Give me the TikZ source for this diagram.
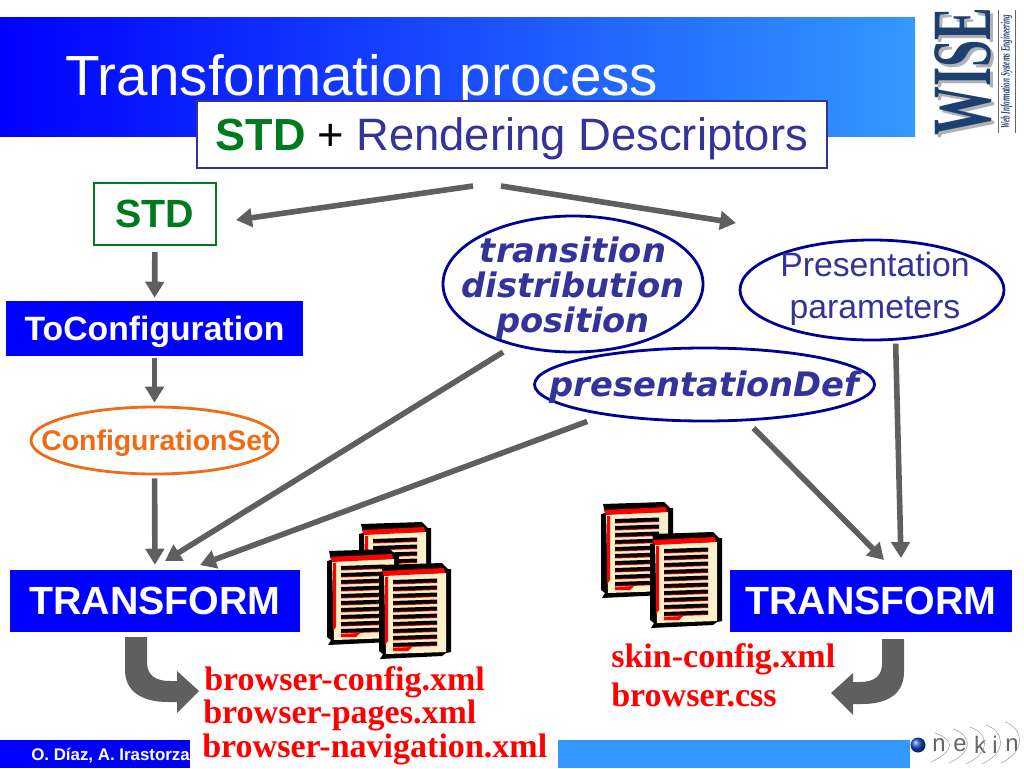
\documentclass[tikz,border=0pt]{standalone}
\usepackage{fontspec}
\setmainfont{Liberation Sans}
\newfontfamily\serifbf{Liberation Serif}
\newfontfamily\dejavu{DejaVu Sans}
\usepackage{xcolor}
\usepackage{tikz}
\usetikzlibrary{positioning,arrows.meta,shapes.geometric}
\newcommand{\fsz}[1]{\fontsize{#1}{#1}\selectfont}
\definecolor{navytext}{HTML}{333399}
\definecolor{barblue}{HTML}{0000FF}
\definecolor{skyblue}{HTML}{3399FF}
\definecolor{flowgray}{HTML}{5F5F5F}
\definecolor{stdgreen}{HTML}{007A1E}
\definecolor{cfgorange}{HTML}{F26A13}
\definecolor{pagecream}{HTML}{FFF0CC}
\definecolor{wiseblue}{HTML}{1D3F70}
\tikzset{
  flow/.style={line width=1.4mm, draw=flowgray, -{Triangle[length=4mm,width=4.6mm]}},
  bluebox/.style={fill=barblue, text=white, font=\bfseries\fsz{28}, inner sep=0pt},
  oval/.style={ellipse, draw=#1, line width=0.7mm, inner sep=0pt},
  slanted/.style={text=navytext, font=\dejavu\bfseries\itshape\fontsize{24}{25}\selectfont, align=center},
  redfile/.style={anchor=base west, text=red, font=\serifbf\bfseries\fsz{24.2}, inner sep=0pt},
  pics/docpage/.style={code={
    \fill[black] (1,0) -- (62,-2) -- (68,4) -- (71,4) -- (71,87) -- (66,88) -- (62,91) -- (0,94) -- (3,89) -- (-1,86) -- (-1,10) -- (3,9) -- cycle;
    \fill[pagecream] (4,10) -- (66,8) -- (66,87) -- (6,89) -- cycle;
    \fill[red] (2,6) -- (64,3) -- (65,8) -- (4,11) -- cycle;
    \fill[red] (5,12) -- (8,12) -- (8,76) -- (5,80) -- cycle;
    \foreach \ly in {15,22,...,78} {
      \fill[red] (13,\ly+3) -- (57,\ly+1.5) -- (57,\ly+3) -- (13,\ly+4.5) -- cycle;
      \fill[black] (13,\ly) -- (57,\ly-1.5) -- (57,\ly+2.2) -- (13,\ly+3.7) -- cycle;
    }
    \fill[red] (13,83) -- (32,82) -- (28,86) -- (13,86) -- cycle;
  }}
}
\begin{document}
\begin{tikzpicture}[x=0.25mm, y=-0.25mm, font=\fsz{24}]
\useasboundingbox (0,0) rectangle (1024,768);
% header and footer bars
\shade[left color=barblue, right color=skyblue] (0,17) rectangle (915,136);
\fill[barblue] (0,740) rectangle (190,768);
\fill[skyblue] (558,740) rectangle (910,768);
\node[anchor=base west, text=white, font=\fsz{40.3}, inner sep=0pt] (title) at (65,95) {Transformation process};
\node[anchor=base west, text=white, font=\bfseries\fsz{12}, inner sep=0pt] (authors) at (31,760) {O. Díaz, A. Irastorza};
% boxes
\node[draw=navytext, fill=white, line width=0.6mm, minimum width=157.5mm, minimum height=16.75mm, inner sep=0pt, text depth=0pt] (render) at (512,134.5)
  {\textcolor{stdgreen}{\bfseries\fsz{32}STD}\hspace{1.5pt} \fsz{32.3}+ \textcolor{navytext}{Rendering Descriptors}};
\node[draw=stdgreen, line width=0.6mm, minimum width=30.5mm, minimum height=15.5mm, inner sep=0pt, text=stdgreen, font=\bfseries\fsz{28}] (std) at (155,214) {STD};
\node[bluebox, font=\bfseries\fsz{24}, minimum width=74.25mm, minimum height=13.75mm, text depth=0pt] (toconf) at (154.5,328.5) {ToConfiguration};
\node[oval=cfgorange, minimum width=61.75mm, minimum height=16.75mm] (cfgset) at (154.5,440.5) {};
\node[text=cfgorange, font=\bfseries\fsz{20.2}] (cfgsettext) at (156.5,443) {ConfigurationSet};
\node[bluebox, minimum width=72.5mm, minimum height=15.5mm] (transL) at (155,601) {TRANSFORM};
\node[bluebox, minimum width=70.5mm, minimum height=15.5mm] (transR) at (871,601) {TRANSFORM};
% ovals
\node[oval=barblue!60!black, minimum width=65mm, minimum height=34mm] (tdp) at (573,284) {};
\node[slanted] (tdptext) at (573,288) {transition\\distribution\\position};
\node[oval=barblue!60!black, minimum width=66mm, minimum height=25mm] (params) at (872,290) {};
\node[align=center, text=navytext, font=\fontsize{24}{30}\selectfont] (paramstext) at (875,289) {Presentation\\parameters};
\node[oval=barblue!60!black, minimum width=85mm, minimum height=18.25mm] (presdef) at (704.5,384.5) {};
\node[slanted] (presdeftext) at (704.5,387) {presentationDef};
% free ends of the arrows
\coordinate (fromL) at (473,186);
\coordinate (toStd) at (236,220);
\coordinate (fromR) at (501,186);
\coordinate (toParams) at (736,223);
\coordinate (inL1) at (165,561);
\coordinate (inL2) at (200,565);
\coordinate (inR1) at (884,560);
\coordinate (inR2) at (901,558);
% arrows
\draw[flow, shorten <=1.5mm, shorten >=0.75mm] (std) -- (toconf);
\draw[flow, shorten <=0.5mm, shorten >=0.75mm] (toconf) -- (cfgset);
\draw[flow, shorten <=0.75mm, shorten >=1.25mm] (cfgset) -- (transL);
\draw[flow] (fromL) -- (toStd);
\draw[flow] (fromR) -- (toParams);
\draw[flow, shorten <=3mm] (tdp.226) -- (inL1);
\draw[flow, shorten <=4.5mm] (presdef.197.7) -- (inL2);
\draw[flow, shorten <=2.4mm] (presdef.319.5) -- (inR1);
\draw[flow, shorten <=0.75mm] (params.295.7) -- (inR2);
% bent arrows
\fill[flowgray] (125,637) -- (147,637) -- (147,662) .. controls (147,675) and (155,681) .. (170,681)
  -- (177,681) -- (177,671) -- (199,691) -- (177,713) -- (177,702) -- (168,702)
  .. controls (140,702) and (125,690) .. (125,670) -- cycle;
\fill[flowgray] (904,639) -- (882,639) -- (882,664) .. controls (882,676) and (874,682) .. (860,682)
  -- (853,682) -- (853,673) -- (831,693) -- (853,715) -- (853,704) -- (862,704)
  .. controls (890,704) and (904,692) .. (904,672) -- cycle;
% documents
\pic at (360,524) {docpage};
\pic at (328,551) {docpage};
\pic at (380,565) {docpage};
\pic at (602,504) {docpage};
\pic at (651,534) {docpage};
% file names
\node[redfile] (cfgxml) at (204,690) {browser-config.xml};
\node[redfile] (pagesxml) at (203,723) {browser-pages.xml};
\node[redfile] (navxml) at (202,757) {browser-navigation.xml};
\node[redfile] (skinxml) at (611,667) {skin-config.xml};
\node[redfile] (css) at (611,706) {browser.css};
% WISE logo
\node[rotate=90, text=black!30, font=\serifbf\bfseries\fsz{60}, inner sep=0pt] (wiseshade) at (966,75) {\scalebox{.58}[1]{WISE}};
\node[rotate=90, text=wiseblue, font=\serifbf\bfseries\fsz{60}, inner sep=0pt] (wise) at (963,72) {\scalebox{.58}[1]{WISE}};
\node[rotate=90, text=wiseblue, font=\serifbf\bfseries\itshape\fsz{9}, inner sep=0pt] (wisesub) at (1006.5,72) {\scalebox{.56}[1]{Web Information Systems Engineering}};
\draw[black!60, line width=0.2mm] (998,10) -- (998,133);
\draw[black!60, line width=0.2mm] (1015,10) -- (1015,133);
% onekin logo
\shade[ball color=skyblue!60!barblue!80!black] (918,745) circle (7.5);
\foreach \lx/\lt in {939/n,960/e,980/k,995/i,1012/n} {
  \node[text=black!60, font=\fsz{17}, inner sep=0pt] at (\lx,745) {\lt};
}
\foreach \ax/\ty/\by in {953/733/762,971/729/763,988/727/764,1004/725/764,1023/722/763} {
  \draw[black!35, line width=0.15mm] (\ax-18,\ty) .. controls (\ax,\ty+6) and (\ax+4,\by-12) .. (\ax-22,\by);
}
\end{tikzpicture}
\end{document}
